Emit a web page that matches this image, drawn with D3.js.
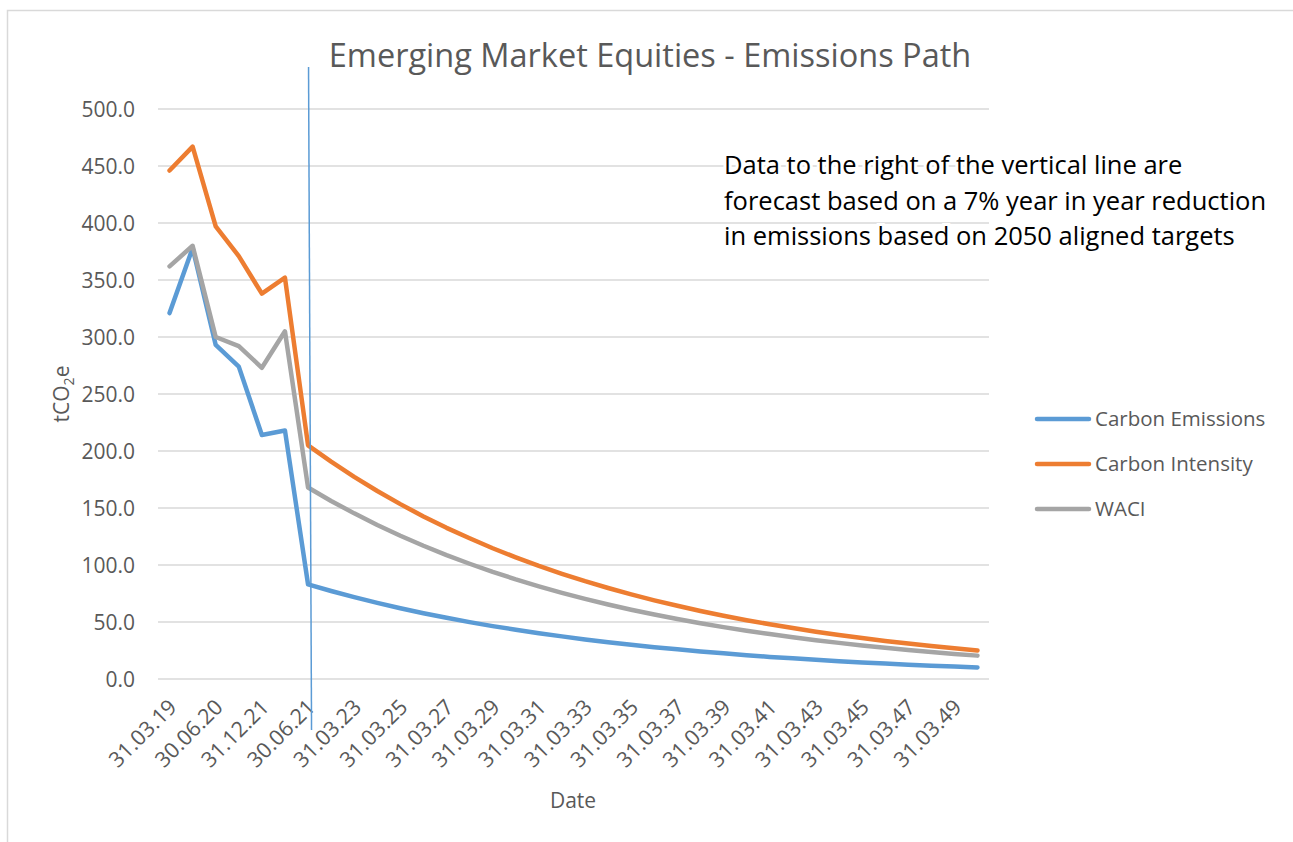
<!DOCTYPE html>
<html lang="en">
  <head>
    <meta charset="utf-8">
    <title>Emerging Market Equities - Emissions Path</title>
    <script type="text/javascript" src="https://d3js.org/d3.v7.min.js"></script>
    <style type="text/css">
      body {
        margin: 0;
        background: #FFFFFF;
        font-family: 'Open Sans', 'DejaVu Sans', sans-serif;
      }
      svg {
        display: block;
      }
      .grid line {
        stroke: #D9D9D9;
        stroke-width: 1.5px;
      }
      .lbl {
        fill: #595959;
      }
    </style>
  </head>
  <body>
    <script type="text/javascript">

      // categories (x axis)
      const dates = [
        "31.03.19", "31.12.19", "30.06.20", "31.12.20", "31.12.21", "31.03.21",
        "30.06.21", "31.03.22", "31.03.23", "31.03.24", "31.03.25", "31.03.26",
        "31.03.27", "31.03.28", "31.03.29", "31.03.30", "31.03.31", "31.03.32",
        "31.03.33", "31.03.34", "31.03.35", "31.03.36", "31.03.37", "31.03.38",
        "31.03.39", "31.03.40", "31.03.41", "31.03.42", "31.03.43", "31.03.44",
        "31.03.45", "31.03.46", "31.03.47", "31.03.48", "31.03.49", "31.03.50"
      ];

      // series values
      const carbonEmissions = [
        321, 378, 293, 274, 214, 218, 83, 77.2, 71.8, 66.8, 62.1, 57.7,
        53.7, 49.9, 46.4, 43.2, 40.2, 37.4, 34.7, 32.3, 30.1, 27.9,
        26.0, 24.2, 22.5, 20.9, 19.4, 18.1, 16.8, 15.6, 14.5, 13.5,
        12.6, 11.7, 10.9, 10.1
      ];
      const carbonIntensity = [
        446, 467, 397, 371, 338, 352, 205, 190.7, 177.3, 164.9, 153.4, 142.6,
        132.6, 123.4, 114.7, 106.7, 99.2, 92.3, 85.8, 79.8, 74.2, 69.0,
        64.2, 59.7, 55.5, 51.6, 48.0, 44.7, 41.5, 38.6, 35.9, 33.4,
        31.1, 28.9, 26.9, 25.0
      ];
      const waci = [
        362, 380, 300, 292, 273, 305, 168, 156.2, 145.3, 135.1, 125.7, 116.9,
        108.7, 101.1, 94.0, 87.4, 81.3, 75.6, 70.3, 65.4, 60.8, 56.6,
        52.6, 48.9, 45.5, 42.3, 39.4, 36.6, 34.0, 31.7, 29.4, 27.4,
        25.5, 23.7, 22.0, 20.5
      ];

      const seriesNames = ["Carbon Emissions", "Carbon Intensity", "WACI"];
      const seriesColors = ["#5B9BD5", "#ED7D31", "#A5A5A5"];
      const yTicks = [0, 50, 100, 150, 200, 250, 300, 350, 400, 450, 500];
      const forecastStart = "30.06.21";

      const noteLines = [
        "Data to the right of the vertical line are",
        "forecast based on a 7% year in year reduction",
        "in emissions based on 2050 aligned targets"
      ];

      const w = 1293;
      const h = 842;

      const svg = d3.select("body").append("svg")
                    .attr("width", w)
                    .attr("height", h);

      // chart frame
      svg.append("rect")
         .attr("x", 7.5).attr("y", 10.5)
         .attr("width", 1290).attr("height", 850)
         .attr("fill", "#FFFFFF")
         .attr("stroke", "#D9D9D9")
         .attr("stroke-width", 1.5);

      const x = d3.scaleBand()
                  .domain(dates)
                  .range([158, 989]);
      const xc = d => x(d) + x.bandwidth() / 2;

      const y = d3.scaleLinear()
                  .domain([0, 500])
                  .range([679, 109]);

      // gridlines
      svg.append("g")
         .attr("class", "grid")
         .selectAll("line")
         .data(yTicks)
         .join("line")
         .attr("x1", 158).attr("x2", 989)
         .attr("y1", d => y(d)).attr("y2", d => y(d));

      // y axis labels
      svg.append("g")
         .selectAll("text")
         .data(yTicks)
         .join("text")
         .attr("class", "lbl")
         .attr("x", 135)
         .attr("y", d => y(d))
         .attr("dy", "0.36em")
         .attr("text-anchor", "end")
         .style("font-size", "21px")
         .text(d => d3.format(".1f")(d));

      // x axis labels, every second category
      svg.append("g")
         .selectAll("text")
         .data(dates.filter((d, i) => i % 2 === 0))
         .join("text")
         .attr("class", "lbl")
         .attr("text-anchor", "end")
         .attr("transform", d => `translate(${xc(d) + 3},${703}) rotate(-45)`)
         .attr("dy", "0.36em")
         .style("font-size", "21.5px")
         .text(d => d);

      // axis titles
      svg.append("text")
         .attr("class", "lbl")
         .attr("x", 573)
         .attr("y", 808)
         .attr("text-anchor", "middle")
         .style("font-size", "21px")
         .text("Date");

      const yTitle = svg.append("text")
         .attr("class", "lbl")
         .attr("transform", "translate(69,394) rotate(-90)")
         .attr("text-anchor", "middle")
         .style("font-size", "21px");
      yTitle.append("tspan").text("tCO");
      yTitle.append("tspan").attr("dy", 5).style("font-size", "14px").text("2");
      yTitle.append("tspan").attr("dy", -5).text("e");

      // lines
      const allSeries = [carbonEmissions, carbonIntensity, waci];
      const line = d3.line()
                     .x((d, i) => xc(dates[i]))
                     .y(d => y(d));

      svg.append("g")
         .selectAll("path")
         .data(allSeries)
         .join("path")
         .attr("d", d => line(d))
         .attr("fill", "none")
         .attr("stroke", (d, i) => seriesColors[i])
         .attr("stroke-width", 4.5)
         .attr("stroke-linejoin", "round")
         .attr("stroke-linecap", "round");

      // forecast divider
      const vx = xc(forecastStart);
      svg.append("line")
         .attr("x1", vx + 0.5).attr("y1", 67)
         .attr("x2", vx + 3.5).attr("y2", 730)
         .attr("stroke", "#5B9BD5")
         .attr("stroke-width", 1.5);

      // title
      svg.append("text")
         .attr("class", "lbl")
         .attr("x", 650)
         .attr("y", 67)
         .attr("text-anchor", "middle")
         .style("font-size", "32.5px")
         .text("Emerging Market Equities - Emissions Path");

      // note
      svg.append("g")
         .selectAll("text")
         .data(noteLines)
         .join("text")
         .attr("x", 724)
         .attr("y", (d, i) => 174 + i * 35.5)
         .attr("fill", "#000000")
         .attr("stroke", "#FFFFFF")
         .attr("stroke-width", 6)
         .attr("paint-order", "stroke")
         .style("font-size", "25.5px")
         .text(d => d);

      // legend
      const legend = svg.append("g")
                        .selectAll("g")
                        .data(seriesNames)
                        .join("g")
                        .attr("transform", (d, i) => `translate(1037,${419 + i * 45})`);
      legend.append("line")
            .attr("x1", 0).attr("x2", 52)
            .attr("stroke", (d, i) => seriesColors[i])
            .attr("stroke-width", 4.5)
            .attr("stroke-linecap", "round");
      legend.append("text")
            .attr("class", "lbl")
            .attr("x", 58)
            .attr("dy", "0.36em")
            .style("font-size", "20.5px")
            .text(d => d);

    </script>
  </body>
</html>
